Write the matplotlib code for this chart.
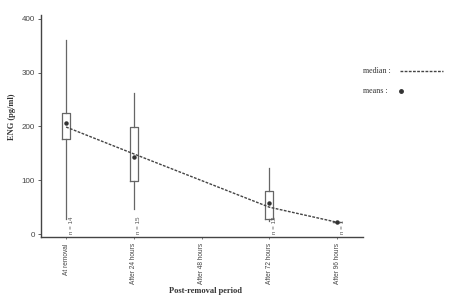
import matplotlib
matplotlib.use('Agg')
import matplotlib.pyplot as plt
from matplotlib.lines import Line2D

# data
periods = ['At removal', 'After 24 hours', 'After 48 hours', 'After 72 hours', 'After 96 hours']
box_pos = [0, 1, 3, 4]
whis_lo = [28, 46, 25, 22]
q1 = [177, 99, 28, 22]
q3 = [225, 199, 80, 22]
whis_hi = [361, 262, 123, 22]
means = [206, 143, 58, 22]
medians = [199, 149, 50, 22]
n_labels = ['n = 14', 'n = 15', 'n = 12', 'n = 1']

fig = plt.figure(figsize=(4.61, 2.96), dpi=100)
ax = fig.add_axes([0.089, 0.199, 0.698, 0.75])

stats = []
for i in range(len(box_pos)):
    stats.append({'med': medians[i], 'q1': q1[i], 'q3': q3[i],
                  'whislo': whis_lo[i], 'whishi': whis_hi[i], 'mean': means[i]})

ax.bxp(stats, positions=box_pos, widths=0.12, showcaps=False, showfliers=False,
       showmeans=True,
       boxprops=dict(color='#666666', linewidth=0.9),
       whiskerprops=dict(color='#666666', linewidth=0.9),
       medianprops=dict(linewidth=0),
       meanprops=dict(marker='o', markersize=2.2, markerfacecolor='#333333',
                      markeredgecolor='#333333'),
       manage_ticks=False)

# dashed line through the medians
ax.plot(box_pos, medians, linestyle=(0, (2, 1)), color='#444444', linewidth=1.0)

for p, lab in zip(box_pos, n_labels):
    ax.text(p + 0.075, 1, lab, rotation=90, fontsize=4.5, color='#555555',
            family='Liberation Sans', ha='center', va='bottom')

ax.set_xlim(-0.37, 4.38)
ax.set_ylim(-5.6, 407)
ax.set_yticks([0, 100, 200, 300, 400])
ax.set_xticks(range(len(periods)))
ax.set_xticklabels(periods, rotation=90, fontsize=4.7, family='Liberation Sans', color='#333333')
ax.tick_params(axis='y', labelsize=5.8, length=2.5, width=0.6, pad=2, colors='#444444')
ax.tick_params(axis='x', length=1.5, width=0.5, pad=3, colors='#444444')
for lab in ax.get_yticklabels():
    lab.set_family('Liberation Sans')

for s in ['top', 'right']:
    ax.spines[s].set_visible(False)
for s in ['left', 'bottom']:
    ax.spines[s].set_color('#444444')
    ax.spines[s].set_linewidth(1.0)

fig.text(0.026, 0.605, 'ENG (pg/ml)', rotation=90, ha='center', va='center',
         fontsize=6, fontweight='bold', family='Liberation Serif', color='#333333')
fig.text(0.445, 0.004, 'Post-removal period', ha='center', va='bottom',
         fontsize=6, fontweight='bold', family='Liberation Serif', color='#333333')

# legend
fig.text(0.787, 0.760, 'median :', ha='left', va='center', fontsize=5.8,
         family='Liberation Serif', color='#333333')
fig.text(0.787, 0.694, 'means :', ha='left', va='center', fontsize=5.8,
         family='Liberation Serif', color='#333333')
fig.add_artist(Line2D([0.868, 0.961], [0.760, 0.760], transform=fig.transFigure,
                      linestyle=(0, (2, 1)), color='#444444', linewidth=1.0))
fig.add_artist(Line2D([0.870], [0.694], transform=fig.transFigure, marker='o',
                      markersize=2.5, color='#333333', linestyle='none'))

fig.savefig('out.png', dpi=100)
